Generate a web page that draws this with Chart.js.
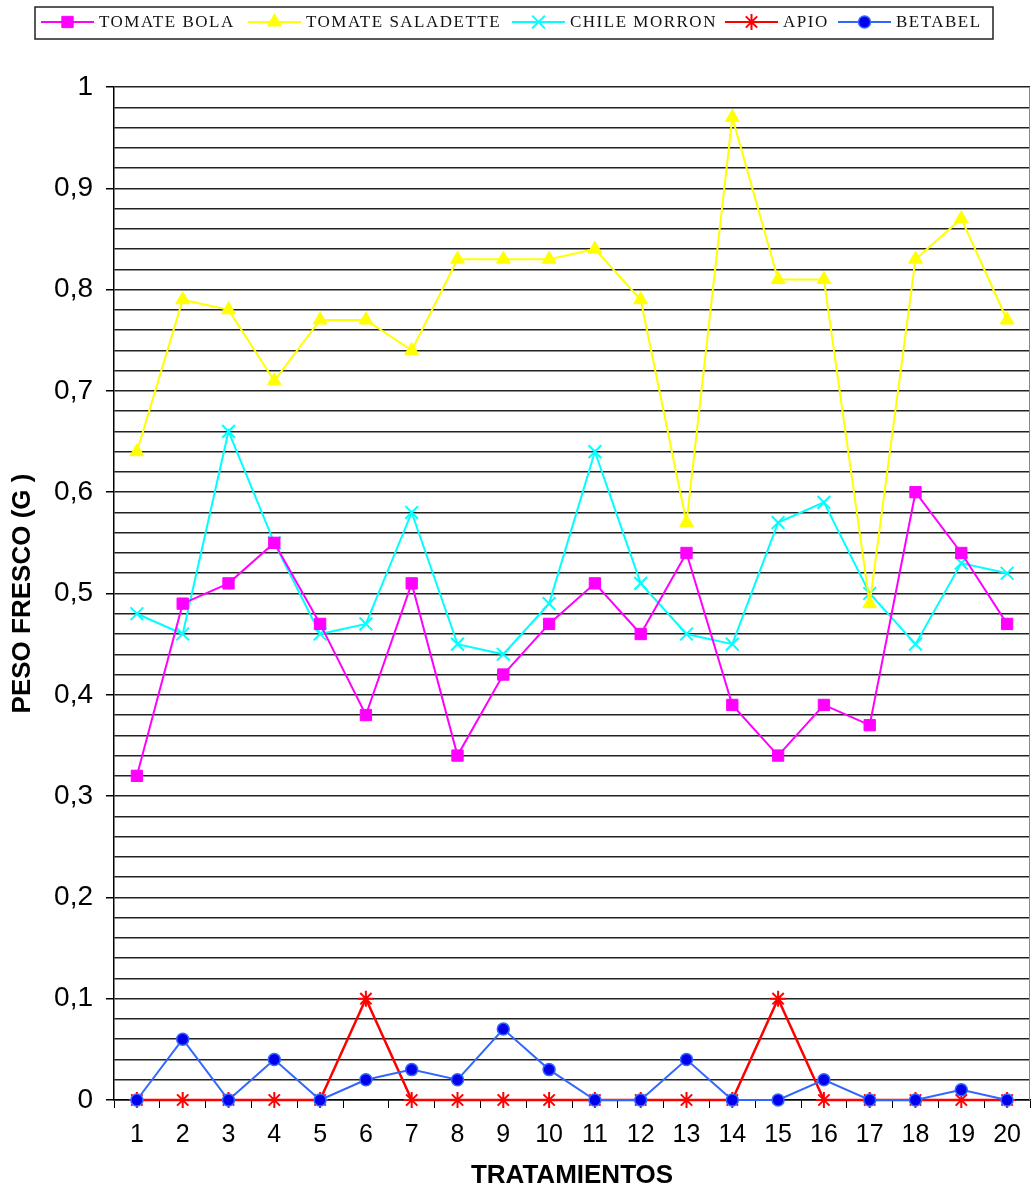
<!DOCTYPE html>
<html>
<head>
<meta charset="utf-8">
<script src="https://cdn.jsdelivr.net/npm/chart.js@4/dist/chart.umd.min.js"></script>
<style>
  html, body { margin: 0; padding: 0; background: #fff; overflow: hidden; }
  #wrap { width: 1031px; height: 1203px; position: relative; overflow: hidden; }
  #chart { display: block; }
</style>
</head>
<body>
<div id="wrap"><canvas id="chart"></canvas></div>
<script>
const tratamientos = ['1','2','3','4','5','6','7','8','9','10','11','12','13','14','15','16','17','18','19','20'];
const tomateBola = [0.32, 0.49, 0.51, 0.55, 0.47, 0.38, 0.51, 0.34, 0.42, 0.47, 0.51, 0.46, 0.54, 0.39, 0.34, 0.39, 0.37, 0.60, 0.54, 0.47];
const tomateSaladette = [0.64, 0.79, 0.78, 0.71, 0.77, 0.77, 0.74, 0.83, 0.83, 0.83, 0.84, 0.79, 0.57, 0.97, 0.81, 0.81, 0.49, 0.83, 0.87, 0.77];
const chileMorron = [0.48, 0.46, 0.66, 0.55, 0.46, 0.47, 0.58, 0.45, 0.44, 0.49, 0.64, 0.51, 0.46, 0.45, 0.57, 0.59, 0.50, 0.45, 0.53, 0.52];
const apio = [0, 0, 0, 0, 0, 0.1, 0, 0, 0, 0, 0, 0, 0, 0, 0.1, 0, 0, 0, 0, 0];
const betabel = [0, 0.06, 0, 0.04, 0, 0.02, 0.03, 0.02, 0.07, 0.03, 0, 0, 0.04, 0, 0, 0.02, 0, 0, 0.01, 0];
const seriesNames = ['TOMATE BOLA', 'TOMATE SALADETTE', 'CHILE MORRON', 'APIO', 'BETABEL'];

const FONT = '"Liberation Sans", Arial, sans-serif';

function isMajor(v) {
    return Math.round(v * 100) % 10 === 0;
}

// legend drawn like the spreadsheet one: line segment with its marker
const legendPlugin = {
    id: 'sheetLegend',
    afterDraw(chart) {
        const ctx = chart.ctx;
        const starts = [41, 248, 512, 725, 838];
        ctx.save();
        ctx.strokeStyle = '#222';
        ctx.lineWidth = 1.5;
        ctx.strokeRect(35, 7, 958, 32);
        ctx.font = '17px "Liberation Serif", "DejaVu Serif", serif';
        ctx.textBaseline = 'middle';
        if ('letterSpacing' in ctx) ctx.letterSpacing = '1.5px';
        chart.data.datasets.forEach((ds, i) => {
            const x0 = starts[i];
            const y = 22;
            ctx.strokeStyle = ds.borderColor;
            ctx.lineWidth = 2;
            ctx.beginPath();
            ctx.moveTo(x0, y);
            ctx.lineTo(x0 + 53, y);
            ctx.stroke();
            ctx.fillStyle = ds.pointBackgroundColor;
            ctx.strokeStyle = ds.pointBorderColor;
            ctx.lineWidth = ds.pointBorderWidth || 1;
            Chart.helpers.drawPoint(ctx, {
                pointStyle: ds.pointStyle,
                radius: ds.pointRadius,
                rotation: 0,
                borderWidth: ds.pointBorderWidth || 1
            }, x0 + 26.5, y);
            ctx.fillStyle = '#111';
            ctx.fillText(ds.label, x0 + 58, y + 1);
        });
        ctx.restore();
    }
};

// thin grey frame line on the right of the plot
const edgePlugin = {
    id: 'rightEdge',
    beforeDatasetsDraw(chart) {
        const a = chart.chartArea, ctx = chart.ctx;
        ctx.save();
        ctx.strokeStyle = '#888';
        ctx.lineWidth = 1;
        ctx.beginPath();
        ctx.moveTo(a.right - 0.5, a.top);
        ctx.lineTo(a.right - 0.5, a.bottom);
        ctx.stroke();
        ctx.restore();
    }
};

const chart = new Chart(document.getElementById('chart'), {
    type: 'line',
    data: {
        labels: tratamientos,
        datasets: [
            {
                label: seriesNames[0], data: tomateBola,
                borderColor: '#ff00ff', backgroundColor: '#ff00ff',
                pointStyle: 'rect', pointRadius: 8, pointBackgroundColor: '#ff00ff', pointBorderColor: '#ff00ff',
                pointBorderWidth: 1, borderWidth: 2, order: 1
            },
            {
                label: seriesNames[1], data: tomateSaladette,
                borderColor: '#ffff00', backgroundColor: '#ffff00',
                pointStyle: 'triangle', pointRadius: 8, pointBackgroundColor: '#ffff00', pointBorderColor: '#ffff00',
                pointBorderWidth: 1, borderWidth: 2, order: 2
            },
            {
                label: seriesNames[2], data: chileMorron,
                borderColor: '#00ffff', backgroundColor: '#00ffff',
                pointStyle: 'crossRot', pointRadius: 9, pointBackgroundColor: '#00ffff', pointBorderColor: '#00ffff',
                pointBorderWidth: 2, borderWidth: 2, order: 3
            },
            {
                label: seriesNames[3], data: apio,
                borderColor: '#ff0000', backgroundColor: '#ff0000',
                pointStyle: 'star', pointRadius: 8, pointBackgroundColor: '#ff0000', pointBorderColor: '#ff0000',
                pointBorderWidth: 2, borderWidth: 2.5, order: 5
            },
            {
                label: seriesNames[4], data: betabel,
                borderColor: '#3366ff', backgroundColor: '#0000ee',
                pointStyle: 'circle', pointRadius: 6, pointBackgroundColor: '#0000ee', pointBorderColor: '#3366ff',
                pointBorderWidth: 1.5, borderWidth: 2, order: 4
            }
        ]
    },
    options: {
        responsive: true,
        maintainAspectRatio: false,
        animation: false,
        layout: { autoPadding: false, padding: { top: 87, right: 1, left: 0, bottom: 0 } },
        elements: { line: { tension: 0 } },
        datasets: { line: { clip: false } },
        plugins: {
            legend: { display: false },
            tooltip: { enabled: false }
        },
        scales: {
            x: {
                offset: true,
                grid: { offset: true, drawOnChartArea: false, drawTicks: true, tickLength: 8, color: '#000' },
                border: { color: '#000', width: 1.5 },
                ticks: { color: '#000', padding: 12, font: { family: FONT, size: 25 }, maxRotation: 0, autoSkip: false },
                title: {
                    display: true, text: 'TRATAMIENTOS', color: '#000',
                    font: { family: FONT, size: 26, weight: 'bold' },
                    padding: { top: 0, bottom: 12 }
                },
                afterFit(scale) {
                    scale.height = 103;
                    scale.paddingLeft = 0;
                    scale.paddingRight = 0;
                }
            },
            y: {
                min: 0, max: 1,
                ticks: {
                    stepSize: 0.02, autoSkip: false, color: '#000', padding: 13,
                    font: { family: FONT, size: 28 },
                    callback(v) {
                        if (!isMajor(v)) return '';
                        return String(Math.round(v * 10) / 10).replace('.', ',');
                    }
                },
                grid: {
                    color: '#222', lineWidth: 1.5, tickLength: 8,
                    tickColor(c) { return isMajor(c.tick.value) ? '#000' : 'rgba(0,0,0,0)'; }
                },
                border: { color: '#000', width: 1.5 },
                title: {
                    display: true, text: 'PESO FRESCO (G )', color: '#000',
                    font: { family: FONT, size: 26, weight: 'bold' },
                    padding: { top: 7, bottom: 0 }
                },
                afterFit(scale) { scale.width = 114; }
            }
        }
    },
    plugins: [legendPlugin, edgePlugin]
});
</script>
</body>
</html>
